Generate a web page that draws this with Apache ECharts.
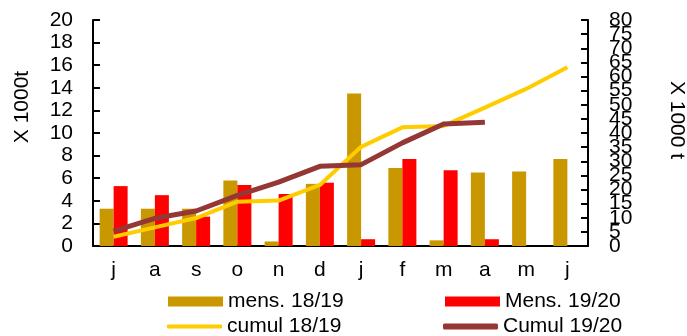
<!DOCTYPE html>
<html><head><meta charset="utf-8">
<script src="https://cdn.jsdelivr.net/npm/echarts@6/dist/echarts.min.js"></script>
<style>html,body{margin:0;padding:0;background:#fff}#c{width:687px;height:336px}</style>
</head><body><div id="c"></div>
<script>
var months = ['j','a','s','o','n','d','j','f','m','a','m','j'];
var mens1819 = [3.3, 3.3, 3.3, 5.8, 0.4, 5.5, 13.5, 6.9, 0.5, 6.5, 6.6, 7.7];
var mens1920 = [5.3, 4.5, 2.6, 5.4, 4.6, 5.6, 0.6, 7.7, 6.7, 0.6, null, null];
var cumul1819 = [3.3, 6.6, 9.9, 15.7, 16.1, 21.6, 35.1, 42.0, 42.5, 49.0, 55.6, 63.3];
var cumul1920 = [5.3, 9.8, 12.4, 17.9, 22.6, 28.2, 28.8, 36.5, 43.2, 43.8, null, null];
var leftTicks = {min: 0, max: 20, interval: 2};
var rightTicks = {min: 0, max: 80, interval: 5};
var leftTitle = 'X 1000t';
var rightTitle = 'X 1000 t';

var FONT = 'Liberation Sans, Arial, sans-serif';
var FS = 21;
var GOLD = '#C99700', RED = '#FF0000', YEL = '#FFCC00', BROWN = '#953735';
var GL = 93, GR = 99, GT = 20, GB = 90;
var plotH = 336 - GT - GB;
var halfStep = plotH * rightTicks.interval / (rightTicks.max - rightTicks.min);

var chart = echarts.init(document.getElementById('c'), null, {renderer: 'canvas'});
function lg(name, left, top, icon, h) {
  return {data: [name], left: left, top: top, itemWidth: 55, itemHeight: h, icon: icon,
    itemGap: 0, padding: 0, textStyle: {fontFamily: FONT, fontSize: FS, color: '#000', padding: [0,0,0,0]}};
}
var labelOnly = {
  splitLine: {show: false}, axisLine: {show: false}, axisTick: {show: false},
  axisLabel: {fontFamily: FONT, fontSize: FS, color: '#000', margin: 21, showMinLabel: true, showMaxLabel: true}
};
chart.setOption({
  animation: false,
  grid: [
    {left: GL, right: GR, top: GT, bottom: GB},
    {left: GL, right: GR, top: GT + halfStep, bottom: GB + halfStep}
  ],
  legend: [
    lg('mens. 18/19', 168, 291, 'rect', 10),
    lg('Mens. 19/20', 445, 291, 'rect', 10),
    lg('cumul 18/19', 167, 316, 'roundRect', 4),
    lg('Cumul 19/20', 443, 316, 'roundRect', 6)
  ],
  graphic: [
    {type: 'text', x: 22, y: 107, rotation: Math.PI / 2,
      style: {text: leftTitle, font: FS + 'px ' + FONT, fill: '#000', align: 'center', verticalAlign: 'middle'}},
    {type: 'text', x: 677, y: 120, rotation: -Math.PI / 2,
      style: {text: rightTitle, font: FS + 'px ' + FONT, fill: '#000', align: 'center', verticalAlign: 'middle'}}
  ],
  xAxis: [
    {type: 'category', data: months, gridIndex: 0,
      axisLine: {lineStyle: {color: '#000', width: 2}}, axisTick: {show: false},
      axisLabel: {fontFamily: FONT, fontSize: FS, color: '#000', margin: 14}},
    {type: 'category', data: months, gridIndex: 1, show: false}
  ],
  yAxis: [
    {type: 'value', gridIndex: 0, min: leftTicks.min, max: leftTicks.max, interval: leftTicks.interval,
      splitLine: {show: false},
      axisLine: {show: true, lineStyle: {color: '#000', width: 2}},
      axisTick: {show: true, inside: true, length: 7, lineStyle: {color: '#000', width: 2}},
      axisLabel: {fontFamily: FONT, fontSize: FS, color: '#000', margin: 20, showMinLabel: true, showMaxLabel: true}},
    {type: 'value', gridIndex: 0, min: rightTicks.min, max: rightTicks.max, interval: rightTicks.interval, position: 'right',
      splitLine: {show: false},
      axisLine: {show: true, lineStyle: {color: '#000', width: 2}},
      axisTick: {show: true, inside: true, length: 7, lineStyle: {color: '#000', width: 2}},
      axisLabel: {show: false}},
    Object.assign({type: 'value', gridIndex: 0, position: 'right', offset: 0,
      min: rightTicks.min, max: rightTicks.max, interval: rightTicks.interval * 2}, labelOnly),
    Object.assign({type: 'value', gridIndex: 1, position: 'right', offset: 0,
      min: rightTicks.min + rightTicks.interval, max: rightTicks.max - rightTicks.interval,
      interval: rightTicks.interval * 2}, labelOnly)
  ],
  series: [
    {name: 'mens. 18/19', type: 'bar', data: mens1819, barWidth: 14, barGap: '0%', itemStyle: {color: GOLD}},
    {name: 'Mens. 19/20', type: 'bar', data: mens1920, barWidth: 14, barGap: '0%', itemStyle: {color: RED}},
    {name: 'cumul 18/19', type: 'line', yAxisIndex: 1, data: cumul1819, symbol: 'none', showSymbol: false,
      lineStyle: {color: YEL, width: 4}, itemStyle: {color: YEL}, z: 3},
    {name: 'Cumul 19/20', type: 'line', yAxisIndex: 1, data: cumul1920, symbol: 'none', showSymbol: false,
      lineStyle: {color: BROWN, width: 5}, itemStyle: {color: BROWN}, z: 4}
  ]
});
</script></body></html>
